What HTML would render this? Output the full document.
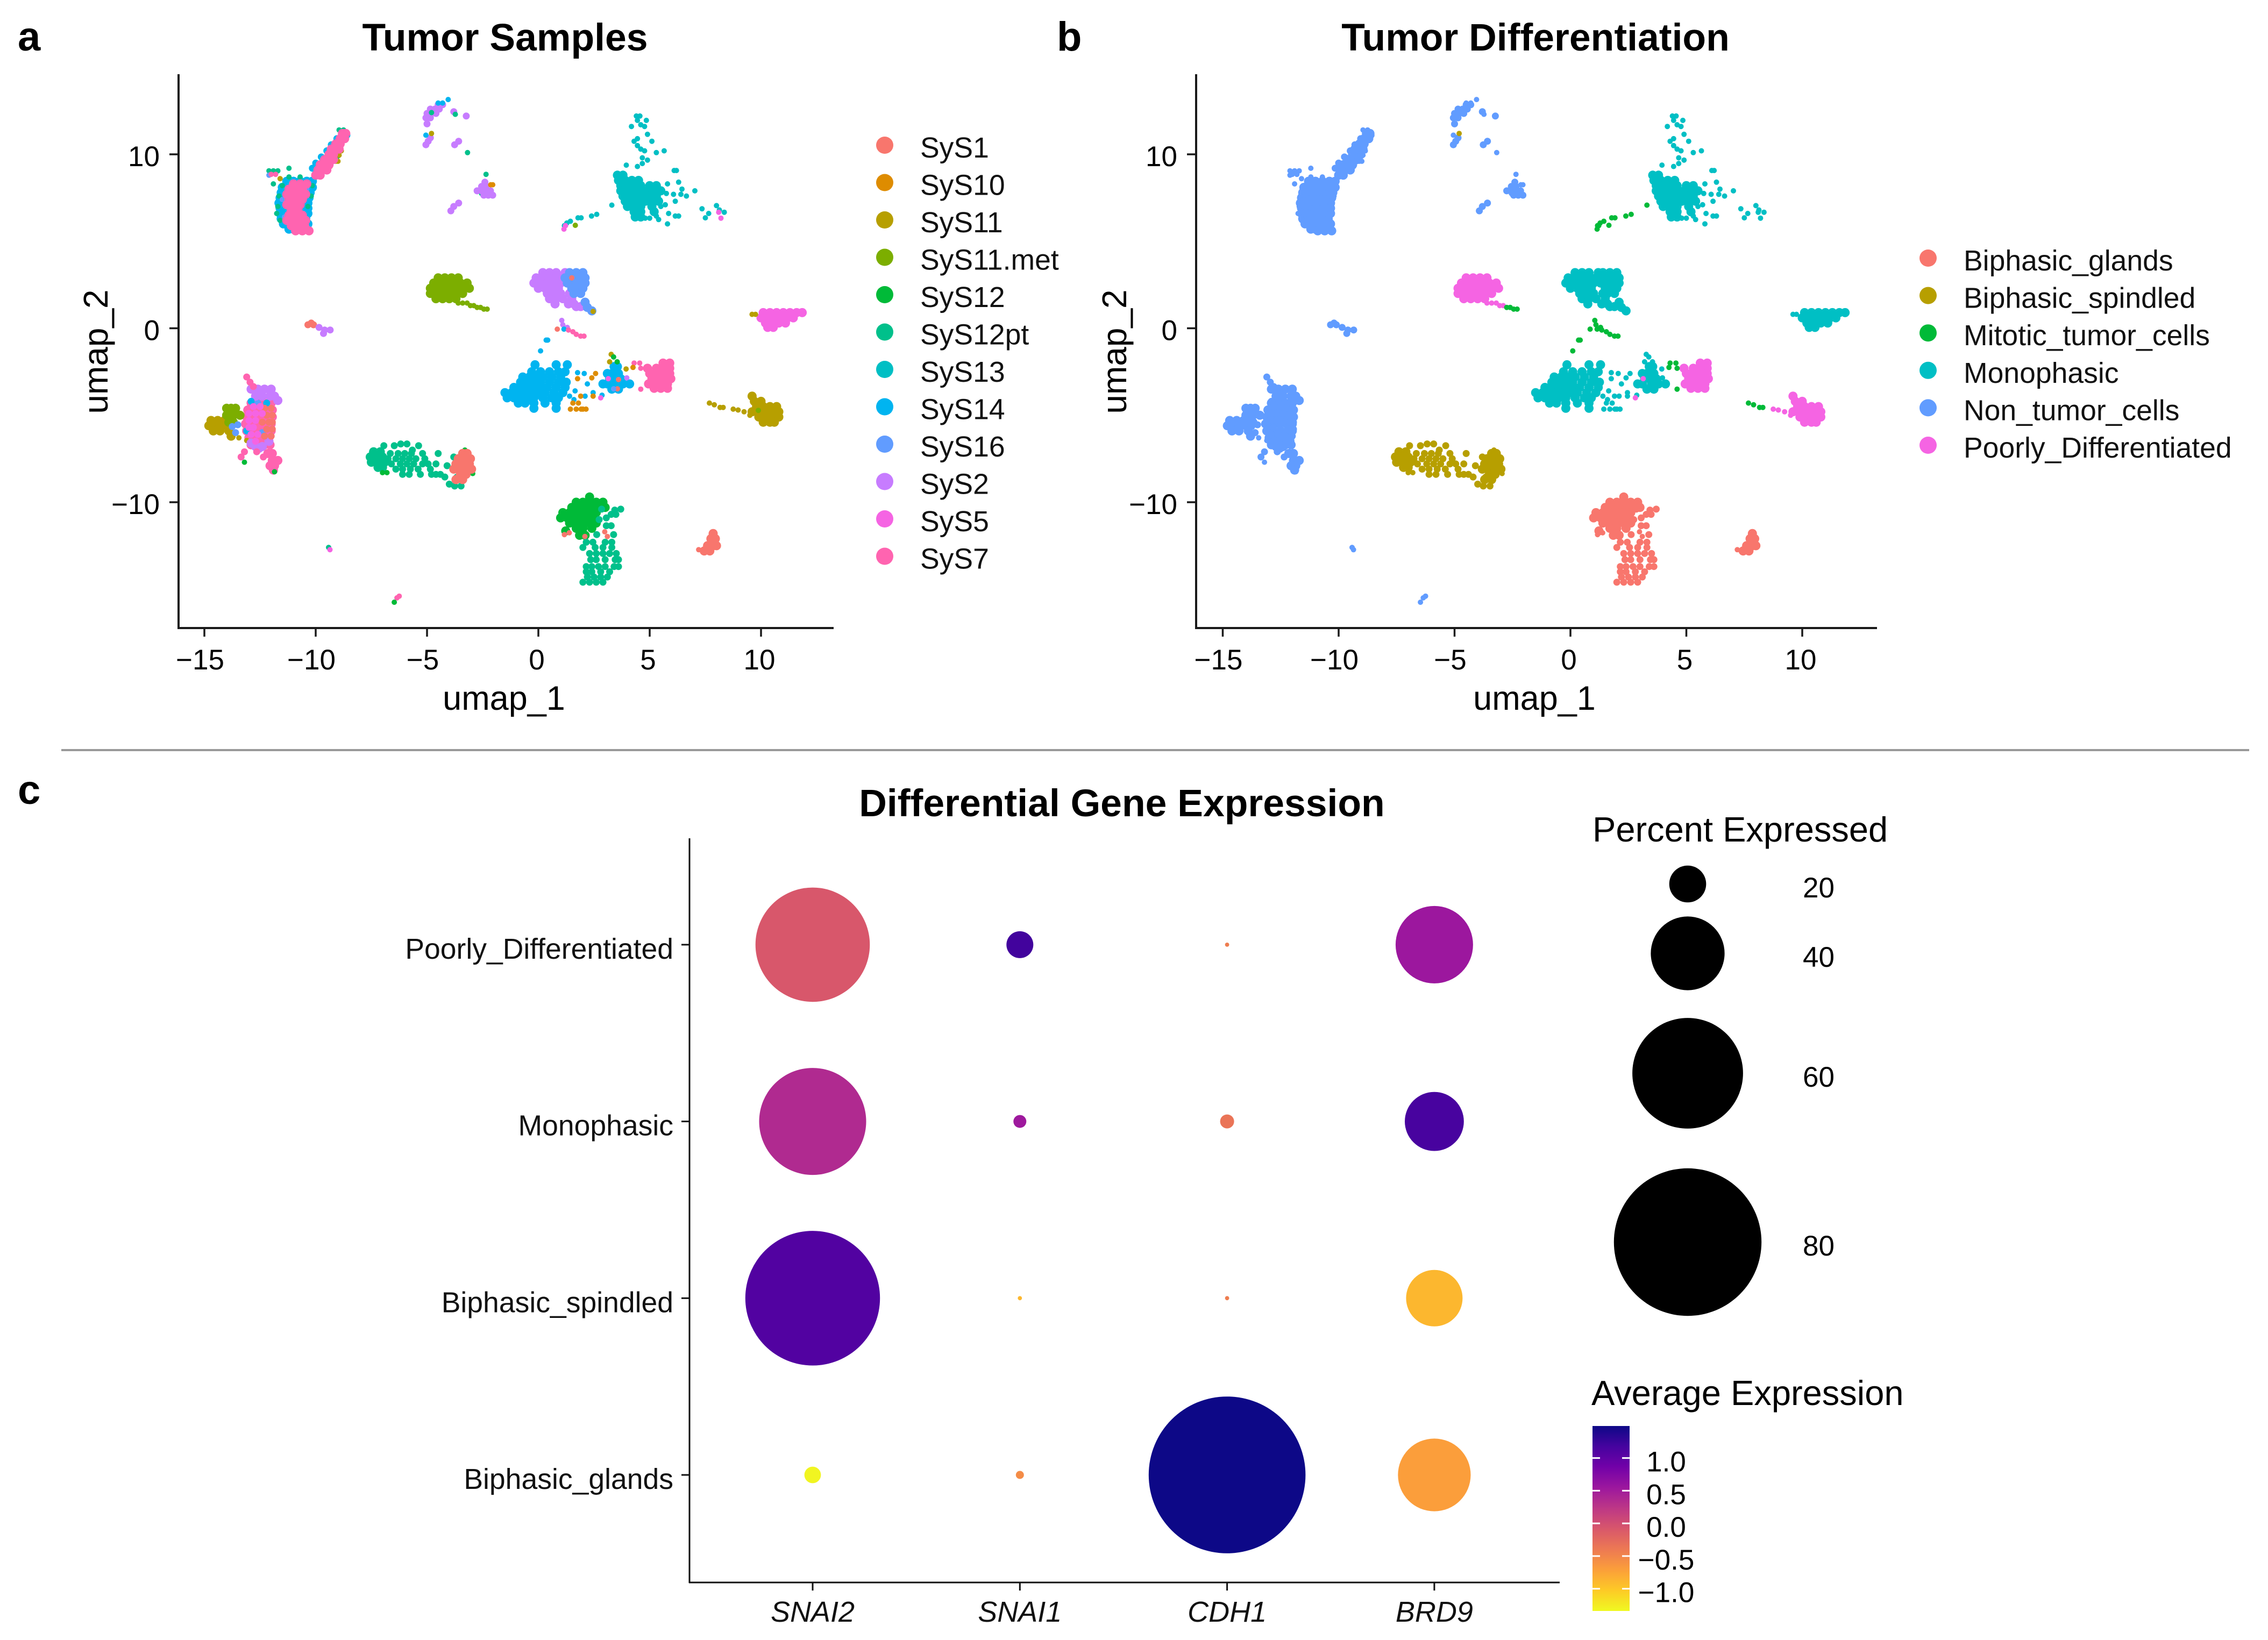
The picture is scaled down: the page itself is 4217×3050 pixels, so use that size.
<!DOCTYPE html>
<html lang="en">
<head>
<meta charset="utf-8">
<title>Tumor UMAP and Differential Gene Expression</title>
<style>
html,body{margin:0;padding:0;background:#fff}
svg{display:block;font-family:"Liberation Sans",sans-serif}
</style>
</head>
<body>
<svg id="figure" xmlns="http://www.w3.org/2000/svg" width="4217" height="3050" viewBox="0 0 4217 3050">
<defs>
<linearGradient id="plasma-gradient" x1="0" y1="0" x2="0" y2="1"></linearGradient>
</defs>
<rect x="0" y="0" width="4217" height="3050" fill="#fff"/>
</svg>
<script>
// ---------- legend categories ----------
const sampleNames = ['SyS1','SyS10','SyS11','SyS11.met','SyS12','SyS12pt','SyS13','SyS14','SyS16','SyS2','SyS5','SyS7'];
const sampleColors = ['#F8766D','#DE8C00','#B79F00','#7CAE00','#00BA38','#00C08B','#00BFC4','#00B4F0','#619CFF','#C77CFF','#F564E3','#FF64B0'];
const diffNames = ['Biphasic_glands','Biphasic_spindled','Mitotic_tumor_cells','Monophasic','Non_tumor_cells','Poorly_Differentiated'];
const diffColors = ['#F8766D','#B79F00','#00BA38','#00BFC4','#619CFF','#F564E3'];

// ---------- UMAP cells, one row = [umap_2, umap_1, umap_1, ...] ----------
const topLeftRimSys14 = [
[8.45,-11.3,-11,-10.7,-10.4,-10.15],[8.1,-11.5,-11.25,-10.95,-10.65,-10.35,-10.15],[7.8,-11.55,-11.35,-11.05,-10.75,-10.45,-10.25],
[7.5,-11.6,-11.4,-11.1,-10.8,-10.5,-10.3],[7.2,-11.65,-11.45,-11.15,-10.85,-10.55,-10.35],[6.9,-11.6,-11.4,-11.1,-10.8,-10.5,-10.35],
[6.6,-11.6,-11.4,-11.1,-10.8,-10.5,-10.35],[6.3,-11.55,-11.35,-11.05,-10.75,-10.45],[6,-11.45,-11.25,-10.95,-10.65,-10.35],[5.7,-11.2,-11,-10.7,-10.4]
];
const topLeftSpecksSys12pt = [
[8.7,-11.2,-10.7],[8.2,-11.5,-10.15],[7.6,-10.2,-11.65],[7,-11.7,-10.35],[6.6,-11.75],[6.2,-11.6,-10.6],[5.6,-10.9],
[9.2,-11.2],[8.3,-11.9],[9.05,-12.1,-11.9,-11.7],[11.4,-8.95,-8.75],[10.2,-8.95],[9.9,-9],[9.55,-9.45]
];
const topLeftSpecksSys16 = [[8,-11.2,-10.4],[7.4,-11.5,-10.6],[7,-11],[6.4,-11.4],[8.8,-12.1]];
const topLeftArmSys14 = [[10.9,-9.05],[10.55,-9.3],[10.2,-9.5],[9.85,-9.75],[9.5,-10],[9.2,-10.15],[11.1,-8.6]];
const topLeftSpecksSys11 = [[10.2,-8.85],[9.95,-8.95],[9.6,-9.1,-9],[9.3,-9.35],[8.6,-11.6],[5.5,-10.3]];
const topLeftSys7 = [
[8.3,-11,-10.7,-10.4],[8,-11.2,-10.9,-10.6],[7.7,-11.3,-11,-10.7,-10.45],[7.4,-11.2,-10.9,-10.6],[7.1,-11.3,-11,-10.7],[6.8,-11.1,-10.8],
[6.5,-11.2,-10.9,-10.6],[6.2,-11.3,-11,-10.7,-10.45],[5.9,-11.1,-10.8,-10.5],[5.6,-10.9,-10.6,-10.3],
[8.8,-10,-9.8],[9.1,-9.9,-9.7,-9.5],[9.4,-9.8,-9.6,-9.4],[9.7,-9.6,-9.4,-9.2],[10,-9.4,-9.2],[10.3,-9.3,-9.1,-8.95],[10.6,-9.1,-8.9],[10.9,-8.9,-8.7],[11.2,-8.8,-8.65]
];
const topLeftSideSys7 = [[8.85,-12,-11.8]];
const topArcSys2 = [
[12.85,-4.5,-4.3],[12.6,-4.85,-4.65,-4.45],[12.35,-5,-4.8,-4.6],[12.1,-5.05,-4.85],[11.75,-5],[10.95,-4.85],[10.75,-4.95],[10.55,-5.05],
[12.45,-3.8],[12.2,-3.24],[10.75,-3.58],[10.55,-3.76],[7.2,-3.58],[7,-3.8],[6.75,-3.93]
];
const topArcSys14 = [[13.15,-4.05],[12.95,-4.3,-4.5],[11.1,-5.05]];
const topArcSys12pt = [[12.3,-3.73],[12.4,-4.8],[10.1,-3.18],[8.85,-2.35],[7.75,-2.55]];
const topArcSys11 = [[11.2,-4.8]];
const smallBlobSys2 = [[8.4,-2.4],[8.15,-2.55,-2.35],[7.9,-2.75,-2.55,-2.35,-2.15],[7.65,-2.45,-2.25,-2.05]];
const smallBlobSys10 = [[8.25,-2.14,-2.05]];
const monophasicSys13 = [
[8.8,3.55,3.8],[8.5,3.6,3.9,4.2,4.5],[8.2,3.7,4,4.3,4.6,5,5.3],[7.9,3.7,4,4.3,4.6,4.9,5.2,5.5],[7.6,3.8,4.1,4.4,4.7,5,5.3],
[7.3,3.9,4.2,4.5,4.8,5.1,5.4],[7,4,4.3,4.6,5.1],[6.7,4.3,4.6,5.2],[6.4,4.35,4.6]
];
const monophasicScatterSys13 = [
[12.2,4.4,4.56],[11.95,4.45,4.85],[11.7,4.6],[11.6,4.18,4.77],[11.15,4.9],[10.9,4.45],[10.75,4.3,5.1],[10.5,4.45],[10.3,4.6],[10.2,4.77,5.65],[10.1,5.3],
[9.8,4.67],[9.67,4.9],[9.47,4.67],[9.38,3.95],[9.3,4.45],[9.07,6.1,6.2],[8.4,6.3],[8.3,5.8],[8,6.45],[7.9,7.03],[7.75,5.75],[7.7,6.07,6.4],[7.6,6.65],
[7.3,6.15],[7.1,5.7],[7.05,8],[7,5.5],[6.87,7.35],[6.8,8.13],[6.67,8.35],[6.6,7.65,5.85],[6.45,6.3,5.3,6.15],[6.35,7.5],[6.33,4.8,5],[6.25,5.4],[6,5.8]
];
const monophasicScatterSys5 = [[6.67,8.1],[6.33,8.2]];
const tailMitoticSys13 = [[7.08,3.3],[6.55,2.62],[6.45,2.39],[6.35,1.78,1.92],[6.15,1.44],[6.05,1.28],[5.9,1.17]];
const tailMitoticSys5 = [[5.9,1.22],[5.7,1.15]];
const tailMitoticSys11met = [[5.92,1.66]];
const poorlySys11met = [
[2.9,-4.5,-4.2,-3.9,-3.6],[2.6,-4.7,-4.4,-4.1,-3.8,-3.5,-3.2],[2.3,-4.85,-4.6,-4.3,-4,-3.7,-3.4,-3.1],[2,-4.85,-4.6,-4.3,-4,-3.7,-3.4],[1.7,-4.6,-4.3,-4,-3.7]
];
const poorlyTailSys11met = [[1.45,-3.6,-3.4,-3.2],[1.3,-3.05,-2.9]];
const mitoticTailSys11met = [[1.2,-2.75,-2.6],[1.1,-2.45,-2.3]];
const monophasicBlobSys2 = [
[3.2,0.2,0.5,0.8,1.2],[2.9,-0.1,0.2,0.5,0.8,1.1],[2.6,-0.2,0.1,0.4,0.7,1],[2.3,0,0.3,0.6,0.9],[2,0.4,0.7,1,1.4],[1.7,0.5,0.8,1.1,1.5],[1.4,0.75,1.35,1.6],[1.25,1.7,1.9]
];
const monophasicBlobSys16 = [
[3.2,1.4,1.7,2],[2.9,1.2,1.5,1.8,2.1],[2.6,1.3,1.6,1.9,2.1],[2.3,1.5,1.8,2],[2,1.6,1.9],[1.5,2.1],[1.2,2.2],[1,2.4]
];
const monophasicBlobSys1 = [[2.9,1.5]];
const monophasicBlobTailSys11 = [[0.97,2.46]];
const smallLeftSys1 = [[0.2,-10.35,-10.1],[0.3,-10.2]];
const smallLeftSys2 = [[0.05,-9.85],[-0.1,-9.6,-9.35],[-0.3,-9.65]];
const midBridgeSys2 = [[0.45,1.05],[0.2,1.1],[0.05,1.3]];
const midBridgeSys14 = [[-0.05,1.15],[-0.68,0.42,0.35],[-1.3,0.1]];
const midBridgeSys7 = [[-0.1,1.35],[-0.2,1.55],[-0.35,1.7],[-0.45,1.9,2.05]];
const midBridgeSys1 = [[-0.05,0.85]];
const monophasicMainSys14 = [
[-2.1,-0.15,0.8,1.3],[-2.5,-0.3,0.1,0.5,0.9,1.2],[-2.8,-0.7,-0.4,-0.1,0.2,0.6,1],[-3.1,-0.8,-0.5,-0.2,0.1,0.5,0.9,1.25],
[-3.4,-1.1,-0.8,-0.5,-0.2,0.1,0.4,0.8,1.2],[-3.7,-1.5,-1.2,-0.9,-0.6,-0.3,0,0.3,0.7,1.1],[-4,-1.4,-1.1,-0.8,-0.5,-0.2,0.2,0.6,0.9],
[-4.3,-0.9,-0.6,-0.2,0.3,0.8],[-4.6,-0.2,0.8]
];
const monophasicScatterSys14 = [[-2.55,1.76],[-2.6,2.06],[-3.2,2.2],[-3.6,1.65],[-3.9,1.4,2.1],[-4.1,1.6],[-3.7,2.46],[-3.85,2.86]];
const monophasicScatterSys10 = [
[-2.6,2.57],[-2.85,2.4],[-2.9,1.76],[-3.9,2.46,1.9],[-4.3,1.8,1.55],[-4.65,1.44,1.7,1.92,2.14,2.0]
];
const monophasicSubSys14 = [
[-2.2,3.4,3.55],[-2.6,3.1,3.3,3.6],[-2.9,3.2,3.4,3.7],[-3.2,2.9,3.1,3.5,3.8,4.1],[-3.5,3.3,3.6]
];
const monophasicSubSpecksSys2 = [[-2.85,3.97]];
const monophasicSubSpecksSys1 = [[-2.95,3.6],[-3.48,3.55]];
const monophasicSubSpecksSys16 = [[-3.48,3.38]];
const monophasicSubSpecksSys5 = [[-2.9,3.14],[-4,2.8]];
const monophasicSubSpecksSys11 = [[-1.5,3.27],[-1.93,3.2],[-2.34,3.94]];
const monophasicSubSpecksSys12 = [[-1.65,3.38],[-1.93,3.54]];
const poorlyBlobSys7 = [
[-2,5.6,5.9],[-2.3,4.9,5.3,5.6,5.9],[-2.6,5,5.3,5.6,5.9],[-2.9,5.1,5.4,5.7,5.95],[-3.2,4.95,5.2,5.5,5.8],[-3.45,5.2,5.5,5.8]
];
const mitoticArcSys7 = [[-2,4.3,4.55],[-2.3,4.6],[-3.5,4.6]];
const mitoticArcSys10 = [[-2.25,4.25]];
const mitoticTailSys11 = [[-4.3,7.68],[-4.4,7.9],[-4.55,8.16,8.3]];
const poorlyTailSys11 = [[-4.65,8.75],[-4.7,8.97],[-4.8,9.24],[-5,9.5]];
const poorlyRightSys11 = [
[-3.9,9.6],[-4.2,9.7,10],[-4.5,9.8,10.1,10.4,10.7],[-4.8,9.6,9.9,10.2,10.5,10.8],[-5.1,9.9,10.2,10.5,10.8],[-5.4,10.1,10.4,10.6]
];
const poorlyRightSys11met = [[-4.72,9.88]];
const monophasicRightSys5 = [
[0.9,10.1,10.4,10.7,11,11.3,11.6,11.85],[0.6,10,10.3,10.6,10.9,11.2,11.45],[0.3,10.2,10.5,10.8,11.1],[0.05,10.3,10.55]
];
const monophasicRightSys11 = [[0.8,9.6,9.75]];
const glandsCoreSys12 = [
[-9.7,2.3],[-10,1.7,2,2.3,2.6,2.9],[-10.3,1.5,1.8,2.1,2.4,2.7,3],[-10.6,1.1,1.4,1.7,2,2.3,2.6],[-10.9,1,1.3,1.6,1.9,2.2,2.5],
[-11.2,1.4,1.7,2,2.3,2.6],[-11.5,1.7,2,2.4],[-11.9,1.85,2.1],[-11.65,1.23]
];
const glandsScatterSys12pt = [
[-10.4,3.7,2.84],[-10.45,3.43],[-10.7,3.27,3.48],[-10.9,3.05],[-11,2.73],[-11.35,3.27,3.05],[-11.86,3.38,2.62],
[-12.3,2.15,2.45,3,3.3],[-12.6,2,2.55,2.9,3.3],[-12.95,2.3,2.6,2.9,3.2,3.5],[-13.3,2.35,2.6,3,3.45,3.6],[-13.7,2.15,2.4,2.7,3,3.4,3.6],
[-14,2.15,2.4,2.8,3.2],[-14.3,2.2,2.5,2.8,3.1],[-14.6,2,2.3,2.6,2.9]
];
const glandsScatterSys1 = [[-11.86,1.17],[-11.76,1.39],[-11.97,2.09,3.1],[-11.7,2.98]];
const glandsRightSys1 = [[-11.8,7.85],[-12.1,7.75,7.95],[-12.5,7.6,7.85,8],[-12.8,7.45,7.7]];
const glandsRightScatterSys1 = [[-12.73,7.2]];
const spindledCoreSys12pt = [[-7.1,-7.4,-7.1],[-7.4,-7.55,-7.25,-7],[-7.7,-7.5,-7.2,-6.9],[-8,-7.2,-7]];
const spindledScatterSys12pt = [
[-6.65,-6.18,-5.9],[-6.75,-6.94,-6.47,-5.38],[-7,-5.66],[-7.2,-6.65,-6.3,-6,-5.7,-5.2,-4.5],[-7.5,-6.75,-6.4,-6.1,-5.8,-5.5,-5.1],
[-7.8,-6.6,-6.2,-5.9,-5.6,-5.2,-4.95,-4.6],[-8.1,-6.4,-6.1,-5.75,-5.4,-4.85],[-8.4,-6.1,-5.8,-5.3,-4.8,-4.6,-4.4],
[-7.9,-4.1],[-8.55,-4.2,-3.65],[-8.96,-4],[-9.07,-3.76,-3.47],[-7.4,-3.8]
];
const spindledSpecksSys12 = [[-8.3,-7,-6.8],[-8.35,-2.95],[-7,-3.3]];
const spindledCoreSys1 = [
[-7.2,-3.4,-3.2],[-7.5,-3.6,-3.3,-3.05],[-7.8,-3.7,-3.4,-3.1],[-8.1,-3.8,-3.55,-3.25,-3],[-8.4,-3.5,-3.25],[-8.7,-3.7,-3.4]
];
const lowerLeftBaseSys7 = [
[-4.3,-12.9,-12.6,-12.3,-12],[-4.7,-13.05,-12.75,-12.45,-12.15,-11.95],[-5.1,-13.1,-12.8,-12.5,-12.2,-11.95],[-5.5,-13.15,-12.85,-12.55,-12.25,-12],
[-5.9,-13.1,-12.8,-12.5,-12.2,-12],[-6.3,-13,-12.7,-12.4,-12.1],[-6.7,-12.9,-12.6,-12.3,-12.05]
];
const lowerLeftSys11 = [[-5.3,-14.7,-14.4,-14.1],[-5.6,-14.8,-14.6,-14.3,-14],[-5.9,-14.6,-14.3,-13.9],[-6.2,-13.8]];
const lowerLeftScatterSys11 = [[-6.3,-13.45],[-6.45,-13.1]];
const lowerLeftSys11met = [[-4.6,-14,-13.8,-13.6],[-5,-14,-13.7,-13.4],[-5.4,-13.9,-13.7]];
const lowerLeftSys16 = [[-5.65,-13.75],[-5.55,-13.5],[-6,-13.6],[-4.3,-12.6],[-6,-12.4]];
const lowerLeftSys2 = [
[-3.5,-12.9,-12.6,-12.3,-12],[-3.9,-12.7,-12.4,-12.05,-11.85],[-4.15,-11.7],[-6.8,-12.7,-12.4],[-6.9,-12.55],[-6.5,-12.1],[-6.6,-12.9]
];
const lowerLeftSys14 = [[-4.2,-12.9],[-4.3,-12.2],[-5.9,-13.1]];
const lowerLeftSys1 = [[-4.6,-12.3,-12],[-5,-12.2,-11.95],[-5.4,-12.4,-12.1,-11.95],[-5.8,-12.2,-11.95],[-6.2,-12.3,-12]];
const lowerLeftSys5 = [[-4.5,-12.8,-12.5],[-4.9,-13,-12.7,-12.4],[-5.3,-13,-12.7],[-5.7,-13,-12.8],[-6.1,-12.9,-12.6],[-6.5,-12.7]];
const lowerLeftSys7 = [[-2.8,-13.1],[-3.1,-12.95],[-3.35,-12.8],[-7.1,-13.2,-12.65],[-7.4,-13.35,-12.35]];
const lowerLeftLobeSys7 = [[-7.2,-12.15,-11.95],[-7.6,-11.95,-11.7],[-7.9,-12.05,-11.85],[-8.15,-11.9]];
const lowerLeftSys12 = [[-7.7,-13.2],[-8.25,-11.85]];
const tinyOneSys12pt = [[-12.6,-9.42]];
const tinyOneSys5 = [[-12.73,-9.36]];
const tinyTwoSys7 = [[-15.5,-6.35],[-15.4,-6.25]];
const tinyTwoSys12 = [[-15.75,-6.47]];

// [rows, sample index, differentiation index, mark class] in drawing order
const cellGroups = [
[topLeftRimSys14,7,4,1],[topLeftSpecksSys12pt,5,4,0],[topLeftSpecksSys16,8,4,0],[topLeftArmSys14,7,4,2],[topLeftSpecksSys11,2,4,0],[topLeftSys7,11,4,1],[topLeftSideSys7,11,4,0],
[topArcSys2,9,4,2],[topArcSys14,7,4,0],[topArcSys12pt,5,4,0],[topArcSys11,2,1,0],[smallBlobSys2,9,4,2],[smallBlobSys10,1,4,0],
[monophasicSys13,6,3,1],[monophasicScatterSys13,6,3,0],[monophasicScatterSys5,10,3,0],[tailMitoticSys13,6,2,0],[tailMitoticSys5,10,2,0],[tailMitoticSys11met,3,2,0],
[poorlySys11met,3,5,1],[poorlyTailSys11met,3,5,0],[mitoticTailSys11met,3,2,0],
[monophasicBlobSys2,9,3,1],[monophasicBlobSys16,8,3,1],[monophasicBlobSys1,0,3,0],[monophasicBlobTailSys11,2,3,0],
[smallLeftSys1,0,4,2],[smallLeftSys2,9,4,2],
[midBridgeSys2,9,2,0],[midBridgeSys14,7,2,0],[midBridgeSys7,11,2,0],[midBridgeSys1,0,2,0],
[monophasicMainSys14,7,3,1],[monophasicScatterSys14,7,3,0],[monophasicScatterSys10,1,3,0],[monophasicSubSys14,7,3,1],
[monophasicSubSpecksSys2,9,3,0],[monophasicSubSpecksSys1,0,3,0],[monophasicSubSpecksSys16,8,3,0],[monophasicSubSpecksSys5,10,5,0],[monophasicSubSpecksSys11,2,3,0],[monophasicSubSpecksSys12,4,3,0],
[poorlyBlobSys7,11,5,1],[mitoticArcSys7,11,2,0],[mitoticArcSys10,1,2,0],
[mitoticTailSys11,2,2,0],[poorlyTailSys11,2,5,0],[poorlyRightSys11,2,5,1],[poorlyRightSys11met,3,5,0],
[monophasicRightSys5,10,3,1],[monophasicRightSys11,2,3,0],
[glandsCoreSys12,4,0,1],[glandsScatterSys12pt,5,0,2],[glandsScatterSys1,0,0,0],[glandsRightSys1,0,0,1],[glandsRightScatterSys1,0,0,0],
[spindledCoreSys12pt,5,1,1],[spindledScatterSys12pt,5,1,2],[spindledSpecksSys12,4,1,0],[spindledCoreSys1,0,1,1],
[lowerLeftBaseSys7,11,4,1],[lowerLeftSys11,2,4,1],[lowerLeftScatterSys11,2,4,0],[lowerLeftSys11met,3,4,1],[lowerLeftSys16,8,4,2],[lowerLeftSys2,9,4,1],[lowerLeftSys14,7,4,2],
[lowerLeftSys1,0,4,2],[lowerLeftSys5,10,4,2],[lowerLeftSys7,11,4,2],[lowerLeftLobeSys7,11,4,1],[lowerLeftSys12,4,4,0],
[tinyOneSys12pt,5,4,0],[tinyOneSys5,10,4,0],[tinyTwoSys7,11,4,0],[tinyTwoSys12,4,4,0]
];
const markRadius = [5, 8.5, 6.5];

// ---------- axis tick labels ----------
const umapXTicks = [-15,-10,-5,0,5,10];
const umapYTicks = [10,0,-10];

// ---------- dot plot data ----------
const dotGenes = ['SNAI2','SNAI1','CDH1','BRD9'];
const dotGroups = ['Biphasic_glands','Biphasic_spindled','Monophasic','Poorly_Differentiated'];
const pctBiphasicGlands = [9,4.4,85,39.4];
const pctBiphasicSpindled = [73,2.3,2.3,30.6];
const pctMonophasic = [58,7,7.6,32];
const pctPoorlyDifferentiated = [62,14.6,2.3,42];
const avgBiphasicGlands = [-1.31,-0.55,1.49,-0.7];
const avgBiphasicSpindled = [1.09,-0.89,-0.43,-0.89];
const avgMonophasic = [0.36,0.53,-0.35,1.16];
const avgPoorlyDifferentiated = [-0.08,1.2,-0.43,0.55];
const sizeLegendValues = [20,40,60,80];
const colorLegendTicks = [1.0,0.5,0.0,-0.5,-1.0];
const colorLegendMin = -1.34;
const colorLegendMax = 1.49;
const plasmaStops = ['#0D0887','#46039F','#7201A8','#9C179E','#BD3786','#D8576B','#ED7953','#FB9F3A','#FDCA26','#F0F921'];

// ---------- helpers ----------
const NS = 'http://www.w3.org/2000/svg';
const root = document.getElementById('figure');
function node(tag, name, parent, attrs) {
  const el = document.createElementNS(NS, tag);
  
  
  for (const k in attrs) el.setAttribute(k, attrs[k]);
  (parent || root).appendChild(el);
  return el;
}
function label(name, str, x, y, size, opts) {
  const o = opts || {};
  const el = node('text', name, o.parent, {x: x, y: y, 'font-size': size, fill: o.fill || '#000'});
  if (o.anchor) el.setAttribute('text-anchor', o.anchor);
  if (o.weight) el.setAttribute('font-weight', o.weight);
  if (o.italic) el.setAttribute('font-style', 'italic');
  if (o.rotate) el.setAttribute('transform', 'rotate(-90 ' + x + ' ' + y + ')');
  el.textContent = str;
  return el;
}
const fmtTick = v => (v < 0 ? '\u2212' + Math.abs(v) : String(v));
const fmtDec = v => (v < 0 ? '\u2212' + Math.abs(v).toFixed(1) : v.toFixed(1));

// ---------- UMAP panels ----------
const umapY = v => 610.5 - 32.35 * v;
const AXIS = '#1a1a1a';
function drawUmap(id, cfg) {
  const g = node('g', id + '-panel', root, {});
  const xs = v => cfg.x0 + cfg.ux * v;
  label(id + '-letter', cfg.letter, cfg.letterX, 94, 76, {weight: 'bold', parent: g});
  label(id + '-title', cfg.title, cfg.titleX, 94, 71.5, {weight: 'bold', anchor: 'middle', parent: g});
  const pts = node('g', id + '-points', g, {});
  cellGroups.forEach(grp => {
    const fill = cfg.byDiff ? diffColors[grp[2]] : sampleColors[grp[1]];
    grp[0].forEach(row => {
      for (let i = 1; i < row.length; i++) {
        node('circle', 'cell-point', pts, {cx: xs(row[i]).toFixed(1), cy: umapY(row[0]).toFixed(1), r: markRadius[grp[3]], fill: fill});
      }
    });
  });
  node('line', id + '-y-axis', g, {x1: cfg.left, x2: cfg.left, y1: 138, y2: 1170, stroke: AXIS, 'stroke-width': 4});
  node('line', id + '-x-axis', g, {x1: cfg.left - 2, x2: cfg.right, y1: 1168, y2: 1168, stroke: AXIS, 'stroke-width': 4});
  umapXTicks.forEach(v => {
    node('line', id + '-x-tick', g, {x1: xs(v), x2: xs(v), y1: 1168, y2: 1184, stroke: AXIS, 'stroke-width': 3.5});
    label(id + '-x-tick-label', fmtTick(v), xs(v) - (v < 0 ? 8 : 3), 1245, 53, {anchor: 'middle', parent: g});
  });
  umapYTicks.forEach(v => {
    node('line', id + '-y-tick', g, {x1: cfg.left - 17, x2: cfg.left, y1: umapY(v), y2: umapY(v), stroke: AXIS, 'stroke-width': 3.5});
    label(id + '-y-tick-label', fmtTick(v), cfg.left - 35, umapY(v) + 22, 53, {anchor: 'end', parent: g});
  });
  label(id + '-x-axis-title', 'umap_1', cfg.xTitleX, 1320, 63, {anchor: 'middle', parent: g});
  label(id + '-y-axis-title', 'umap_2', cfg.yTitleX, 654, 64, {anchor: 'middle', rotate: true, parent: g});
  cfg.names.forEach((n, i) => {
    const ky = cfg.keyY0 + cfg.keyStep * i;
    node('circle', id + '-legend-key', g, {cx: cfg.keyX, cy: ky, r: 16, fill: cfg.colors[i]});
    label(id + '-legend-entry', n, cfg.textX, ky + 23, 53.5, {fill: '#111', parent: g});
  });
}
drawUmap('umap-samples', {letter: 'a', letterX: 33, title: 'Tumor Samples', titleX: 939, x0: 1001, ux: 41.4, left: 332, right: 1550, xTitleX: 937, yTitleX: 200,
  names: sampleNames, colors: sampleColors, keyX: 1645, keyY0: 270, keyStep: 69.5, textX: 1711, byDiff: false});
drawUmap('umap-differentiation', {letter: 'b', letterX: 1965, title: 'Tumor Differentiation', titleX: 2855, x0: 2920, ux: 43.1, left: 2224, right: 3490, xTitleX: 2853, yTitleX: 2094,
  names: diffNames, colors: diffColors, keyX: 3585, keyY0: 480, keyStep: 69.6, textX: 3651, byDiff: true});

node('line', 'panel-divider', root, {x1: 114, x2: 4182, y1: 1395, y2: 1395, stroke: '#999', 'stroke-width': 4});

// ---------- dot plot ----------
const dotPanel = node('g', 'dot-plot-panel', root, {});
const pctRows = [pctBiphasicGlands, pctBiphasicSpindled, pctMonophasic, pctPoorlyDifferentiated];
const avgRows = [avgBiphasicGlands, avgBiphasicSpindled, avgMonophasic, avgPoorlyDifferentiated];
const dotX = i => 1511 + 385.3 * i;
const dotY = j => 2743 - 328.7 * j;
const dotR = p => p * 1.715;
function plasma(v) {
  const t = Math.min(1, Math.max(0, (colorLegendMax - v) / (colorLegendMax - colorLegendMin))) * (plasmaStops.length - 1);
  const i = Math.min(plasmaStops.length - 2, Math.floor(t));
  const f = t - i;
  const hex = (s, a) => parseInt(s.substr(a, 2), 16);
  const mix = a => Math.round(hex(plasmaStops[i], a) * (1 - f) + hex(plasmaStops[i + 1], a) * f);
  return 'rgb(' + mix(1) + ',' + mix(3) + ',' + mix(5) + ')';
}
label('panel-letter-c', 'c', 33, 1495, 76, {weight: 'bold', parent: dotPanel});
label('dot-plot-title', 'Differential Gene Expression', 2086, 1518, 71.5, {weight: 'bold', anchor: 'middle', parent: dotPanel});
pctRows.forEach((row, j) => {
  row.forEach((p, i) => {
    node('circle', 'expression-dot', dotPanel, {cx: dotX(i), cy: dotY(j), r: dotR(p).toFixed(1), fill: plasma(avgRows[j][i])});
  });
});
node('line', 'dot-plot-y-axis', dotPanel, {x1: 1282, x2: 1282, y1: 1559, y2: 2944, stroke: '#111', 'stroke-width': 3});
node('line', 'dot-plot-x-axis', dotPanel, {x1: 1281, x2: 2900, y1: 2943, y2: 2943, stroke: '#111', 'stroke-width': 3});
dotGenes.forEach((g, i) => {
  node('line', 'dot-plot-x-tick', dotPanel, {x1: dotX(i), x2: dotX(i), y1: 2943, y2: 2958, stroke: '#111', 'stroke-width': 3});
  label('gene-label', g, dotX(i), 3016, 54, {anchor: 'middle', italic: true, fill: '#111', parent: dotPanel});
});
dotGroups.forEach((g, j) => {
  node('line', 'dot-plot-y-tick', dotPanel, {x1: 1267, x2: 1282, y1: dotY(j), y2: dotY(j), stroke: '#111', 'stroke-width': 3});
  label('group-label', g, 1252, dotY(j) + 26, 53.5, {anchor: 'end', fill: '#111', parent: dotPanel});
});

// size legend
label('percent-expressed-title', 'Percent Expressed', 2961, 1565, 65, {parent: dotPanel});
const sizeKeyCenters = [1644, 1773, 1996, 2310];
sizeLegendValues.forEach((p, i) => {
  node('circle', 'size-legend-dot', dotPanel, {cx: 3138, cy: sizeKeyCenters[i], r: dotR(p).toFixed(1), fill: '#000'});
  label('size-legend-label', String(p), 3352, sizeKeyCenters[i] + 25, 53, {parent: dotPanel});
});

// colour legend
label('average-expression-title', 'Average Expression', 2959, 2613, 65, {parent: dotPanel});
const gradient = document.getElementById('plasma-gradient');
plasmaStops.forEach((c, i) => {
  const s = document.createElementNS(NS, 'stop');
  
  
  s.setAttribute('offset', i / (plasmaStops.length - 1));
  s.setAttribute('stop-color', c);
  gradient.appendChild(s);
});
const barTop = 2652, barBottom = 2996;
const barY = v => barTop + (colorLegendMax - v) / (colorLegendMax - colorLegendMin) * (barBottom - barTop);
node('rect', 'color-bar', dotPanel, {x: 2961, y: barTop, width: 69, height: barBottom - barTop, fill: 'url(#plasma-gradient)'});
colorLegendTicks.forEach(v => {
  node('line', 'color-bar-tick', dotPanel, {x1: 2961, x2: 2975, y1: barY(v), y2: barY(v), stroke: '#fff', 'stroke-width': 3});
  node('line', 'color-bar-tick', dotPanel, {x1: 3016, x2: 3030, y1: barY(v), y2: barY(v), stroke: '#fff', 'stroke-width': 3});
  label('color-bar-label', fmtDec(v), 3098, barY(v) + 25, 53, {anchor: 'middle', parent: dotPanel});
});
</script>
</body>
</html>
